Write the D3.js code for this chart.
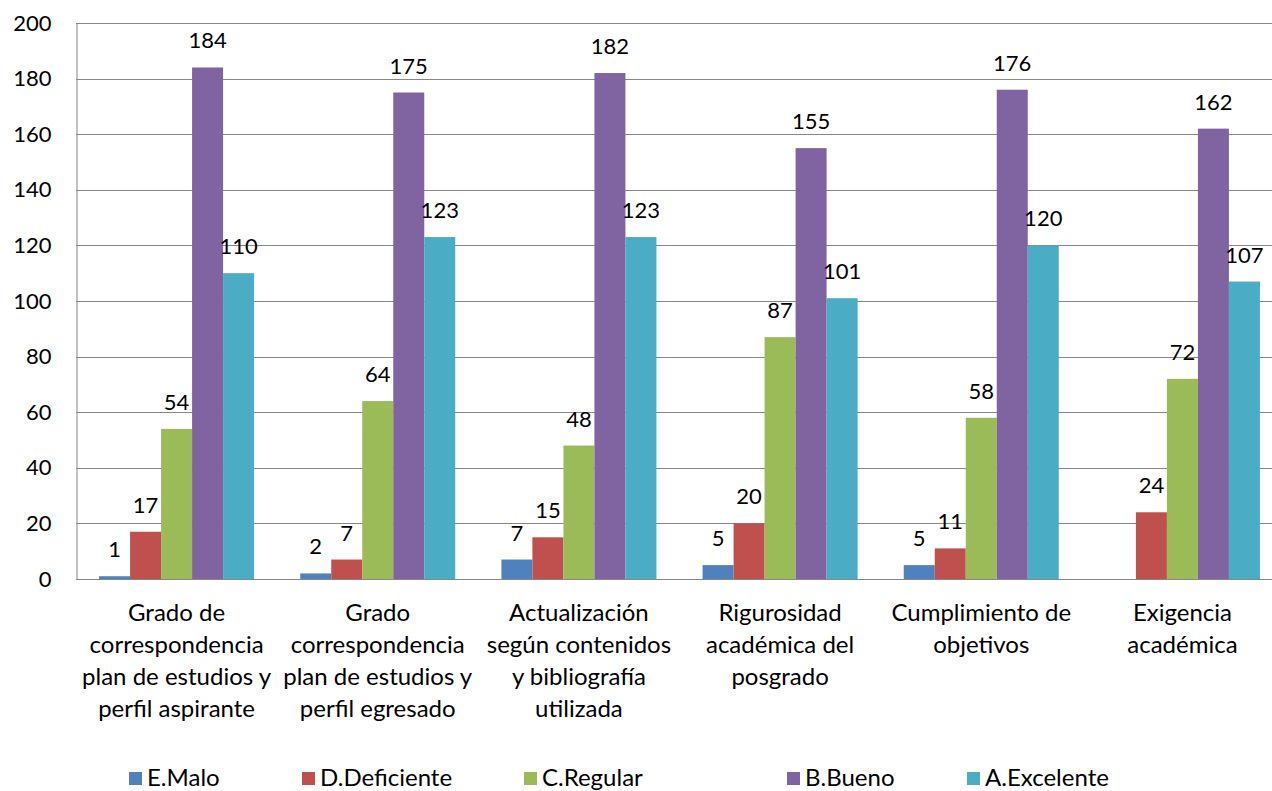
<!DOCTYPE html>
<html>
<head>
<meta charset="utf-8">
<script src="https://cdn.jsdelivr.net/npm/d3@7"></script>
<style>
  body { margin: 0; background: #fff; }
  svg { display: block; font-family: Lato, "Open Sans", sans-serif; }
</style>
</head>
<body>
<div id="chart"></div>
<script>
var categories = [
  ["Grado de", "correspondencia", "plan de estudios y", "perfil aspirante"],
  ["Grado", "correspondencia", "plan de estudios y", "perfil egresado"],
  ["Actualización", "según contenidos", "y bibliografía", "utilizada"],
  ["Rigurosidad", "académica del", "posgrado"],
  ["Cumplimiento de", "objetivos"],
  ["Exigencia", "académica"]
];
var seriesNames = ["E.Malo", "D.Deficiente", "C.Regular", "B.Bueno", "A.Excelente"];
var malo = [1, 2, 7, 5, 5, 0];
var deficiente = [17, 7, 15, 20, 11, 24];
var regular = [54, 64, 48, 87, 58, 72];
var bueno = [184, 175, 182, 155, 176, 162];
var excelente = [110, 123, 123, 101, 120, 107];
var yTicks = [0, 20, 40, 60, 80, 100, 120, 140, 160, 180, 200];

var colors = ["#4F81BD", "#C0504D", "#9BBB59", "#8064A2", "#4BACC6"];
var series = [malo, deficiente, regular, bueno, excelente];

var W = 1272, H = 791;
var mLeft = 76, mTop = 23, mBottom = 579, mRight = 1283;
var numSize = 22, catSize = 24;

var svg = d3.select("#chart").append("svg")
  .attr("width", W).attr("height", H);

var y = d3.scaleLinear().domain([0, 200]).range([mBottom, mTop]);
var x0 = d3.scaleBand().domain(d3.range(categories.length)).range([mLeft, mRight])
  .paddingInner(0.2294).paddingOuter(0.1147);
var x1 = d3.scaleBand().domain(d3.range(seriesNames.length)).range([0, x0.bandwidth()]);

// gridlines
svg.append("g").selectAll("line").data(yTicks).enter().append("line")
  .attr("x1", mLeft).attr("x2", W)
  .attr("y1", function(d) { return Math.round(y(d)) + 0.5; })
  .attr("y2", function(d) { return Math.round(y(d)) + 0.5; })
  .attr("stroke", "#878787").attr("stroke-width", 1);

// y axis
var yAxis = svg.append("g").attr("transform", "translate(" + (mLeft + 0.5) + ",0)")
  .call(d3.axisLeft(y).tickValues(yTicks).tickSize(0).tickPadding(25));
yAxis.select(".domain").attr("stroke", "#878787");
yAxis.selectAll("text").attr("font-size", numSize).attr("fill", "#000")
  .attr("font-family", "Lato");

// bars
var groups = svg.append("g").selectAll("g").data(categories).enter().append("g")
  .attr("transform", function(d, i) { return "translate(" + x0(i) + ",0)"; });

groups.each(function(c, ci) {
  var g = d3.select(this);
  series.forEach(function(s, si) {
    var v = s[ci];
    if (v > 0) {
      g.append("rect")
        .attr("x", x1(si)).attr("width", x1.bandwidth())
        .attr("y", y(v)).attr("height", y(0) - y(v))
        .attr("fill", colors[si]);
      g.append("text")
        .attr("x", x1(si) + x1.bandwidth() / 2)
        .attr("y", y(v) - 19)
        .attr("text-anchor", "middle")
        .attr("font-size", numSize)
        .text(v);
    }
  });
});

// x axis line
svg.append("line").attr("x1", mLeft).attr("x2", W)
  .attr("y1", mBottom + 0.5).attr("y2", mBottom + 0.5)
  .attr("stroke", "#878787");

// category labels
svg.append("g").selectAll("text").data(categories).enter().append("text")
  .attr("text-anchor", "middle")
  .attr("font-size", catSize)
  .attr("x", function(d, i) { return x0(i) + x0.bandwidth() / 2; })
  .each(function(lines) {
    var t = d3.select(this);
    lines.forEach(function(l, li) {
      t.append("tspan").attr("x", t.attr("x")).attr("y", 621 + li * 32).text(l);
    });
  });

// legend
var legendX = [129, 302, 524, 787, 967];
var leg = svg.append("g").selectAll("g").data(seriesNames).enter().append("g")
  .attr("transform", function(d, i) { return "translate(" + legendX[i] + ",772)"; });
leg.append("rect").attr("width", 13).attr("height", 13)
  .attr("fill", function(d, i) { return colors[i]; });
leg.append("text").attr("x", 18).attr("y", 14).attr("font-size", catSize).text(function(d) { return d; });
</script>
</body>
</html>
